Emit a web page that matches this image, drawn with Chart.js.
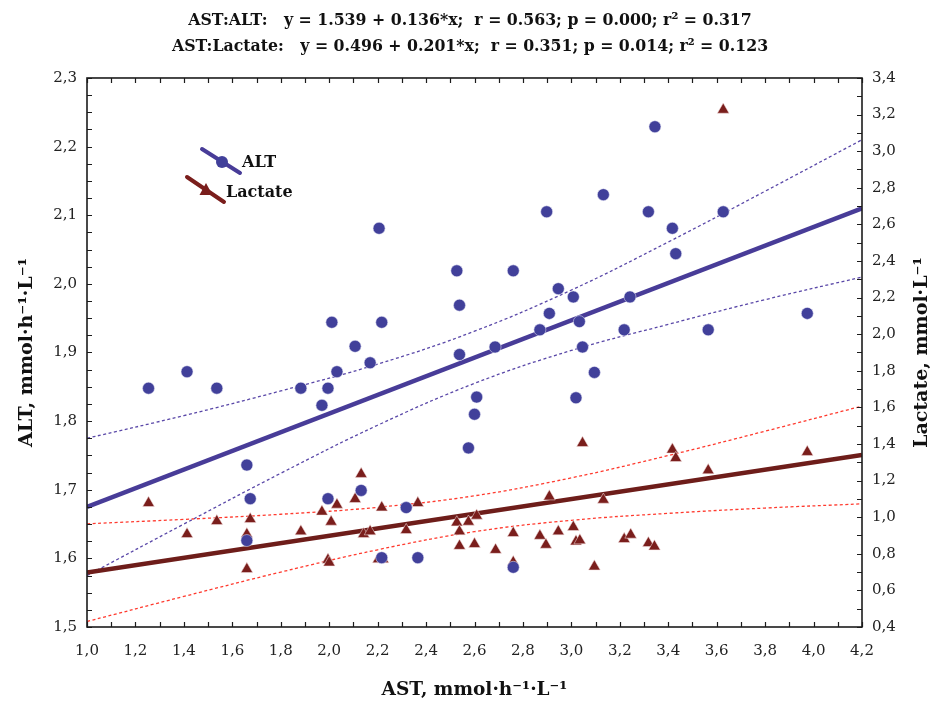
<!DOCTYPE html>
<html>
<head>
<meta charset="utf-8">
<script src="https://cdn.jsdelivr.net/npm/chart.js@4.4.0/dist/chart.umd.min.js"></script>
<style>
html, body { margin: 0; padding: 0; background: #fff; }
</style>
</head>
<body>
<canvas id="myChart" width="940" height="703"></canvas>
<script>
// AST vs ALT (left axis)
const astAlt = [1.254, 1.413, 1.536, 1.660, 1.674, 1.660, 1.883, 1.970, 1.995, 2.032,
                2.107, 2.169, 1.995, 2.132, 2.217, 2.318, 2.366, 2.538, 2.609, 2.600,
                2.575, 2.206, 2.011, 2.217, 2.527, 2.538, 3.345, 3.132, 2.898, 3.318,
                3.627, 3.417, 3.431, 2.760, 2.946, 3.008, 3.242, 2.909, 3.033, 2.870,
                3.218, 3.565, 3.974, 2.685, 3.046, 3.095, 3.019, 2.760];
const alt = [1.848, 1.872, 1.848, 1.736, 1.687, 1.626, 1.848, 1.823, 1.848, 1.872,
             1.909, 1.885, 1.687, 1.699, 1.601, 1.674, 1.601, 1.897, 1.835, 1.810,
             1.761, 2.081, 1.944, 1.944, 2.019, 1.969, 2.229, 2.130, 2.105, 2.105,
             2.105, 2.081, 2.044, 2.019, 1.993, 1.981, 1.981, 1.957, 1.945, 1.933,
             1.933, 1.933, 1.957, 1.908, 1.908, 1.871, 1.834, 1.587];

// AST vs Lactate (right axis)
const astLac = [1.254, 1.413, 1.536, 1.674, 1.660, 1.660, 1.883, 1.970, 2.008, 1.995,
                2.000, 2.032, 2.107, 2.132, 2.142, 2.169, 2.217, 2.203, 2.222, 2.318,
                2.366, 2.527, 2.575, 2.538, 2.538, 2.600, 2.609, 2.687, 2.760, 2.760,
                2.870, 2.895, 2.909, 2.946, 3.008, 3.019, 3.035, 3.046, 3.095, 3.132,
                3.218, 3.245, 3.318, 3.343, 3.417, 3.431, 3.565, 3.974, 3.627];
const lactate = [1.077, 0.907, 0.978, 0.989, 0.907, 0.716, 0.922, 1.030, 0.975, 0.767,
                 0.752, 1.068, 1.099, 1.236, 0.907, 0.922, 1.053, 0.770, 0.770, 0.929,
                 1.077, 0.971, 0.975, 0.922, 0.843, 0.853, 1.008, 0.821, 0.913, 0.754,
                 0.898, 0.849, 1.113, 0.922, 0.946, 0.867, 0.873, 1.405, 0.730, 1.095,
                 0.880, 0.904, 0.858, 0.840, 1.369, 1.323, 1.256, 1.356, 3.226];

// regression lines and 95% bands
const fitX = [1.0, 4.2];
const altFit = [1.675, 2.110];
const lacFit = [0.697, 1.340];
const bandX = [1.0, 1.4, 1.8, 2.2, 2.6, 3.0, 3.4, 3.8, 4.2];
const altUpper = [1.775, 1.808, 1.844, 1.883, 1.931, 1.991, 2.061, 2.135, 2.210];
const altLower = [1.575, 1.650, 1.724, 1.794, 1.855, 1.903, 1.941, 1.977, 2.010];
const lacUpper = [0.964, 0.988, 1.016, 1.054, 1.117, 1.215, 1.337, 1.470, 1.607];
const lacLower = [0.430, 0.567, 0.700, 0.822, 0.921, 0.983, 1.021, 1.050, 1.073];

// tick labels
const xTicks = [1.0, 1.2, 1.4, 1.6, 1.8, 2.0, 2.2, 2.4, 2.6, 2.8, 3.0, 3.2, 3.4, 3.6, 3.8, 4.0, 4.2];
const altTicks = [1.5, 1.6, 1.7, 1.8, 1.9, 2.0, 2.1, 2.2, 2.3];
const lacTicks = [0.4, 0.6, 0.8, 1.0, 1.2, 1.4, 1.6, 1.8, 2.0, 2.2, 2.4, 2.6, 2.8, 3.0, 3.2, 3.4];

const titleLines = [
    'AST:ALT:   y = 1.539 + 0.136*x;  r = 0.563; p = 0.000; r² = 0.317',
    'AST:Lactate:   y = 0.496 + 0.201*x;  r = 0.351; p = 0.014; r² = 0.123'
];
const rightTitle = 'Lactate, mmol·L⁻¹';

const BLUE = '#41409a';
const BLUE_LINE = '#483c98';
const RED = '#7a1e1c';
const RED_LINE = '#6e1d1a';
const SERIF = '"DejaVu Serif", "Liberation Serif", serif';

function pairs(xs, ys) {
    return xs.map((x, i) => ({ x: x, y: ys[i] }));
}
function comma(v) {
    return v.toFixed(1).replace('.', ',');
}

// inward tick marks, frame, right axis title and the slanted legend
const framePlugin = {
    id: 'framePlugin',
    afterDraw(chart) {
        const ctx = chart.ctx;
        const a = chart.chartArea;
        const sx = chart.scales.x, sy = chart.scales.y, sy2 = chart.scales.y2;
        ctx.save();
        ctx.strokeStyle = '#1c1c1c';
        ctx.lineWidth = 1.2;
        ctx.beginPath();
        for (let i = 0; i <= 32; i++) {
            const px = Math.round(sx.getPixelForValue(1 + i * 0.1)) + 0.5;
            ctx.moveTo(px, a.bottom); ctx.lineTo(px, a.bottom - 5);
            ctx.moveTo(px, a.top); ctx.lineTo(px, a.top + 5);
        }
        for (let i = 0; i <= 32; i++) {
            const py = Math.round(sy.getPixelForValue(1.5 + i * 0.025)) + 0.5;
            ctx.moveTo(a.left, py); ctx.lineTo(a.left + 5, py);
        }
        for (let i = 0; i <= 30; i++) {
            const py = Math.round(sy2.getPixelForValue(0.4 + i * 0.1)) + 0.5;
            ctx.moveTo(a.right, py); ctx.lineTo(a.right - 5, py);
        }
        ctx.stroke();
        ctx.lineWidth = 1.6;
        ctx.strokeRect(a.left, a.top, a.width, a.height);

        // right axis title, reading bottom to top like the left one
        ctx.save();
        ctx.translate(922, (a.top + a.bottom) / 2);
        ctx.rotate(-Math.PI / 2);
        ctx.fillStyle = '#111';
        ctx.font = 'bold 19px ' + SERIF;
        ctx.textAlign = 'center';
        ctx.textBaseline = 'middle';
        ctx.fillText(rightTitle, 0, 0);
        ctx.restore();

        // legend
        const lx = a.left, ly = a.top;
        ctx.lineCap = 'round';
        ctx.lineWidth = 4;
        ctx.strokeStyle = BLUE_LINE;
        ctx.beginPath(); ctx.moveTo(lx + 115, ly + 71); ctx.lineTo(lx + 153, ly + 95); ctx.stroke();
        ctx.fillStyle = BLUE;
        ctx.beginPath(); ctx.arc(lx + 135, ly + 84, 6, 0, Math.PI * 2); ctx.fill();
        ctx.strokeStyle = RED;
        ctx.beginPath(); ctx.moveTo(lx + 100, ly + 99); ctx.lineTo(lx + 137, ly + 124); ctx.stroke();
        ctx.fillStyle = RED;
        ctx.beginPath();
        ctx.moveTo(lx + 119, ly + 105); ctx.lineTo(lx + 125.5, ly + 117); ctx.lineTo(lx + 112.5, ly + 117);
        ctx.closePath(); ctx.fill();
        ctx.fillStyle = '#111';
        ctx.font = 'bold 16px ' + SERIF;
        ctx.textAlign = 'left';
        ctx.textBaseline = 'middle';
        ctx.fillText('ALT', lx + 155, ly + 85);
        ctx.fillText('Lactate', lx + 139, ly + 115);
        ctx.restore();
    }
};

const ctx = document.querySelector('#myChart');
new Chart(ctx, {
    type: 'scatter',
    data: {
        datasets: [
            {
                label: 'ALT',
                data: pairs(astAlt, alt),
                yAxisID: 'y',
                pointStyle: 'circle',
                pointRadius: 6,
                backgroundColor: BLUE,
                borderColor: 'rgba(230,230,245,0.9)',
                borderWidth: 0.6,
                order: 1
            },
            {
                label: 'Lactate',
                data: pairs(astLac, lactate),
                yAxisID: 'y2',
                pointStyle: 'triangle',
                pointRadius: 6.8,
                backgroundColor: RED,
                borderColor: 'rgba(245,225,225,0.9)',
                borderWidth: 0.6,
                order: 2
            },
            {
                label: 'ALT fit',
                data: pairs(fitX, altFit),
                yAxisID: 'y',
                showLine: true,
                pointRadius: 0,
                borderColor: BLUE_LINE,
                borderWidth: 4.5,
                order: 3
            },
            {
                label: 'Lactate fit',
                data: pairs(fitX, lacFit),
                yAxisID: 'y2',
                showLine: true,
                pointRadius: 0,
                borderColor: RED_LINE,
                borderWidth: 4.5,
                order: 4
            },
            {
                label: 'ALT upper',
                data: pairs(bandX, altUpper),
                yAxisID: 'y',
                showLine: true, tension: 0.4,
                pointRadius: 0,
                borderColor: '#5a48a8',
                borderWidth: 1.3,
                borderDash: [3, 2.5],
                order: 5
            },
            {
                label: 'ALT lower',
                data: pairs(bandX, altLower),
                yAxisID: 'y',
                showLine: true, tension: 0.4,
                pointRadius: 0,
                borderColor: '#5a48a8',
                borderWidth: 1.3,
                borderDash: [3, 2.5],
                order: 5
            },
            {
                label: 'Lactate upper',
                data: pairs(bandX, lacUpper),
                yAxisID: 'y2',
                showLine: true, tension: 0.4,
                pointRadius: 0,
                borderColor: '#ff3a2e',
                borderWidth: 1.3,
                borderDash: [3, 2.5],
                order: 5
            },
            {
                label: 'Lactate lower',
                data: pairs(bandX, lacLower),
                yAxisID: 'y2',
                showLine: true, tension: 0.4,
                pointRadius: 0,
                borderColor: '#ff3a2e',
                borderWidth: 1.3,
                borderDash: [3, 2.5],
                order: 5
            }
        ]
    },
    options: {
        responsive: false,
        animation: false,
        layout: { padding: 0 },
        plugins: {
            legend: { display: false },
            tooltip: { enabled: false },
            title: {
                display: true,
                text: titleLines,
                color: '#111',
                font: { family: '"DejaVu Serif Condensed", "DejaVu Serif", serif', size: 17.5, weight: 'bold', lineHeight: 1.514 },
                padding: { top: 7, bottom: 18 }
            }
        },
        scales: {
            x: {
                type: 'linear',
                min: 1.0, max: 4.2,
                afterBuildTicks: s => { s.ticks = xTicks.map(v => ({ value: v })); },
                afterFit: s => { s.height = 76; },
                grid: { display: false, drawTicks: false },
                border: { display: false },
                ticks: { callback: v => comma(v), color: '#222', padding: 15, maxRotation: 0, autoSkip: false,
                         font: { family: SERIF, size: 15 } },
                title: { display: true, text: 'AST, mmol·h⁻¹·L⁻¹', color: '#111',
                         font: { family: SERIF, size: 18.5, weight: 'bold' }, padding: { top: 0, bottom: 2 } }
            },
            y: {
                position: 'left',
                min: 1.5, max: 2.3,
                afterBuildTicks: s => { s.ticks = altTicks.map(v => ({ value: v })); },
                afterFit: s => { s.width = 87; },
                grid: { display: false, drawTicks: false },
                border: { display: false },
                ticks: { callback: v => comma(v), color: '#222', padding: 10, autoSkip: false,
                         font: { family: SERIF, size: 15 } },
                title: { display: true, text: 'ALT, mmol·h⁻¹·L⁻¹', color: '#111',
                         font: { family: SERIF, size: 19, weight: 'bold' }, padding: 16 }
            },
            y2: {
                position: 'right',
                min: 0.4, max: 3.4,
                afterBuildTicks: s => { s.ticks = lacTicks.map(v => ({ value: v })); },
                afterFit: s => { s.width = 78; },
                grid: { display: false, drawTicks: false },
                border: { display: false },
                ticks: { callback: v => comma(v), color: '#222', padding: 10, autoSkip: false,
                         font: { family: SERIF, size: 15 } },
                title: { display: false }
            }
        }
    },
    plugins: [framePlugin]
});
</script>
</body>
</html>
